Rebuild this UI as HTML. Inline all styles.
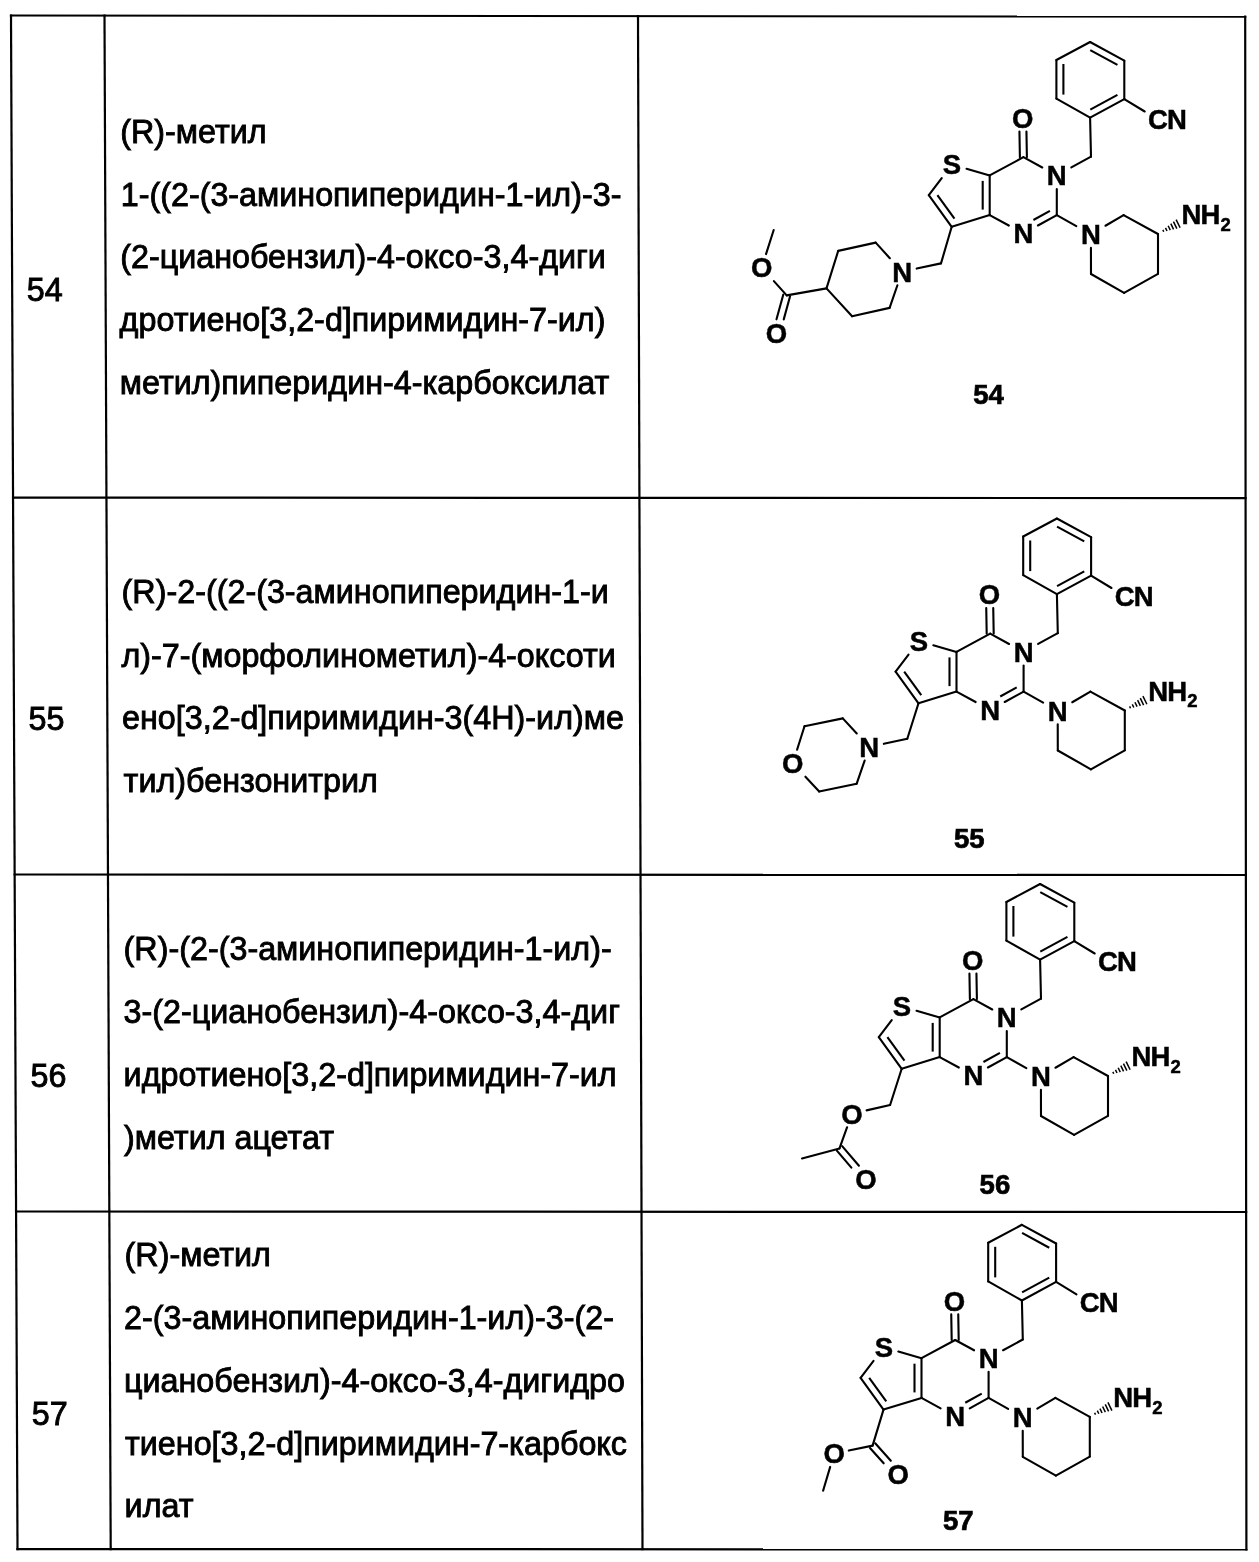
<!DOCTYPE html>
<html><head><meta charset="utf-8"><title>Table</title>
<style>html,body{margin:0;padding:0;background:#fff}body{width:1259px;height:1562px;position:relative;overflow:hidden;font-family:"Liberation Sans",sans-serif}</style>
</head><body>
<svg width="1259" height="1562" viewBox="0 0 1259 1562" style="position:absolute;left:0;top:0;filter:grayscale(1) blur(0.3px)">
<line x1="11.00" y1="15.50" x2="1245.20" y2="16.70" stroke="#000" stroke-width="2.2" stroke-linecap="square"/>
<line x1="17.50" y1="1549.10" x2="1246.40" y2="1549.40" stroke="#000" stroke-width="2.2" stroke-linecap="square"/>
<line x1="11.00" y1="15.50" x2="17.50" y2="1549.10" stroke="#000" stroke-width="2.2" stroke-linecap="square"/>
<line x1="1245.20" y1="16.70" x2="1246.40" y2="1549.40" stroke="#000" stroke-width="2.2" stroke-linecap="square"/>
<line x1="104.50" y1="15.50" x2="110.70" y2="1549.10" stroke="#000" stroke-width="2.2" stroke-linecap="square"/>
<line x1="638.00" y1="16.00" x2="642.50" y2="1549.20" stroke="#000" stroke-width="2.2" stroke-linecap="square"/>
<line x1="13.04" y1="497.60" x2="1245.58" y2="498.10" stroke="#000" stroke-width="2.2" stroke-linecap="square"/>
<line x1="14.64" y1="874.50" x2="1245.87" y2="875.00" stroke="#000" stroke-width="2.2" stroke-linecap="square"/>
<line x1="16.07" y1="1211.50" x2="1246.14" y2="1212.00" stroke="#000" stroke-width="2.2" stroke-linecap="square"/>
<text transform="translate(120.20,142.60) scale(0.9848,1)" font-family="Liberation Sans, sans-serif" font-size="32.8" fill="#000" stroke="#000" stroke-width="0.9">(R)-метил</text>
<text transform="translate(120.70,205.60) scale(0.9848,1)" font-family="Liberation Sans, sans-serif" font-size="32.8" fill="#000" stroke="#000" stroke-width="0.9">1-((2-(3-аминопиперидин-1-ил)-3-</text>
<text transform="translate(120.20,268.40) scale(0.9848,1)" font-family="Liberation Sans, sans-serif" font-size="32.8" fill="#000" stroke="#000" stroke-width="0.9">(2-цианобензил)-4-оксо-3,4-диги</text>
<text transform="translate(119.60,331.20) scale(0.9848,1)" font-family="Liberation Sans, sans-serif" font-size="32.8" fill="#000" stroke="#000" stroke-width="0.9">дротиено[3,2-d]пиримидин-7-ил)</text>
<text transform="translate(119.80,393.60) scale(0.9848,1)" font-family="Liberation Sans, sans-serif" font-size="32.8" fill="#000" stroke="#000" stroke-width="0.9">метил)пиперидин-4-карбоксилат</text>
<text transform="translate(121.60,603.40) scale(0.9848,1)" font-family="Liberation Sans, sans-serif" font-size="32.8" fill="#000" stroke="#000" stroke-width="0.9">(R)-2-((2-(3-аминопиперидин-1-и</text>
<text transform="translate(121.40,666.60) scale(0.9848,1)" font-family="Liberation Sans, sans-serif" font-size="32.8" fill="#000" stroke="#000" stroke-width="0.9">л)-7-(морфолинометил)-4-оксоти</text>
<text transform="translate(122.00,729.10) scale(0.9848,1)" font-family="Liberation Sans, sans-serif" font-size="32.8" fill="#000" stroke="#000" stroke-width="0.9">ено[3,2-d]пиримидин-3(4H)-ил)ме</text>
<text transform="translate(123.60,792.20) scale(0.9848,1)" font-family="Liberation Sans, sans-serif" font-size="32.8" fill="#000" stroke="#000" stroke-width="0.9">тил)бензонитрил</text>
<text transform="translate(123.60,960.00) scale(0.9848,1)" font-family="Liberation Sans, sans-serif" font-size="32.8" fill="#000" stroke="#000" stroke-width="0.9">(R)-(2-(3-аминопиперидин-1-ил)-</text>
<text transform="translate(123.60,1023.00) scale(0.9848,1)" font-family="Liberation Sans, sans-serif" font-size="32.8" fill="#000" stroke="#000" stroke-width="0.9">3-(2-цианобензил)-4-оксо-3,4-диг</text>
<text transform="translate(123.60,1085.90) scale(0.9848,1)" font-family="Liberation Sans, sans-serif" font-size="32.8" fill="#000" stroke="#000" stroke-width="0.9">идротиено[3,2-d]пиримидин-7-ил</text>
<text transform="translate(124.00,1148.60) scale(0.9848,1)" font-family="Liberation Sans, sans-serif" font-size="32.8" fill="#000" stroke="#000" stroke-width="0.9">)метил ацетат</text>
<text transform="translate(124.60,1265.50) scale(0.9848,1)" font-family="Liberation Sans, sans-serif" font-size="32.8" fill="#000" stroke="#000" stroke-width="0.9">(R)-метил</text>
<text transform="translate(124.00,1328.60) scale(0.9848,1)" font-family="Liberation Sans, sans-serif" font-size="32.8" fill="#000" stroke="#000" stroke-width="0.9">2-(3-аминопиперидин-1-ил)-3-(2-</text>
<text transform="translate(124.00,1391.70) scale(0.9848,1)" font-family="Liberation Sans, sans-serif" font-size="32.8" fill="#000" stroke="#000" stroke-width="0.9">цианобензил)-4-оксо-3,4-дигидро</text>
<text transform="translate(125.00,1454.60) scale(0.9848,1)" font-family="Liberation Sans, sans-serif" font-size="32.8" fill="#000" stroke="#000" stroke-width="0.9">тиено[3,2-d]пиримидин-7-карбокс</text>
<text transform="translate(124.60,1517.10) scale(0.9848,1)" font-family="Liberation Sans, sans-serif" font-size="32.8" fill="#000" stroke="#000" stroke-width="0.9">илат</text>
<text transform="translate(26.70,300.60) scale(0.9848,1)" font-family="Liberation Sans, sans-serif" font-size="32.8" fill="#000" stroke="#000" stroke-width="0.9">54</text>
<text transform="translate(28.60,730.20) scale(0.9848,1)" font-family="Liberation Sans, sans-serif" font-size="32.8" fill="#000" stroke="#000" stroke-width="0.9">55</text>
<text transform="translate(30.60,1086.80) scale(0.9848,1)" font-family="Liberation Sans, sans-serif" font-size="32.8" fill="#000" stroke="#000" stroke-width="0.9">56</text>
<text transform="translate(31.80,1424.50) scale(0.9848,1)" font-family="Liberation Sans, sans-serif" font-size="32.8" fill="#000" stroke="#000" stroke-width="0.9">57</text>
<line x1="1090.10" y1="42.00" x2="1124.30" y2="60.70" stroke="#000" stroke-width="2.1" stroke-linecap="round"/>
<line x1="1090.25" y1="50.06" x2="1117.43" y2="64.92" stroke="#000" stroke-width="2.1" stroke-linecap="butt"/>
<line x1="1124.30" y1="60.70" x2="1124.30" y2="99.10" stroke="#000" stroke-width="2.1" stroke-linecap="round"/>
<line x1="1124.30" y1="99.10" x2="1090.10" y2="117.70" stroke="#000" stroke-width="2.1" stroke-linecap="round"/>
<line x1="1117.44" y1="94.86" x2="1090.27" y2="109.64" stroke="#000" stroke-width="2.1" stroke-linecap="butt"/>
<line x1="1090.10" y1="117.70" x2="1056.40" y2="98.60" stroke="#000" stroke-width="2.1" stroke-linecap="round"/>
<line x1="1056.40" y1="98.60" x2="1056.40" y2="60.00" stroke="#000" stroke-width="2.1" stroke-linecap="round"/>
<line x1="1063.40" y1="94.60" x2="1063.40" y2="64.00" stroke="#000" stroke-width="2.1" stroke-linecap="butt"/>
<line x1="1056.40" y1="60.00" x2="1090.10" y2="42.00" stroke="#000" stroke-width="2.1" stroke-linecap="round"/>
<line x1="1124.30" y1="99.10" x2="1144.70" y2="111.50" stroke="#000" stroke-width="2.1" stroke-linecap="round"/>
<line x1="1090.10" y1="117.70" x2="1091.00" y2="156.70" stroke="#000" stroke-width="2.1" stroke-linecap="round"/>
<line x1="1091.00" y1="156.70" x2="1071.34" y2="167.45" stroke="#000" stroke-width="2.1" stroke-linecap="round"/>
<line x1="1042.27" y1="167.48" x2="1023.40" y2="157.20" stroke="#000" stroke-width="2.1" stroke-linecap="round"/>
<line x1="1026.90" y1="157.14" x2="1026.44" y2="131.56" stroke="#000" stroke-width="2.1" stroke-linecap="round"/>
<line x1="1019.90" y1="157.26" x2="1019.44" y2="131.59" stroke="#000" stroke-width="2.1" stroke-linecap="round"/>
<line x1="1023.40" y1="157.20" x2="989.70" y2="175.40" stroke="#000" stroke-width="2.1" stroke-linecap="round"/>
<line x1="989.70" y1="175.40" x2="989.70" y2="215.10" stroke="#000" stroke-width="2.1" stroke-linecap="round"/>
<line x1="982.70" y1="180.90" x2="982.70" y2="209.60" stroke="#000" stroke-width="2.1" stroke-linecap="butt"/>
<line x1="989.70" y1="215.10" x2="1008.82" y2="225.54" stroke="#000" stroke-width="2.1" stroke-linecap="round"/>
<line x1="1037.93" y1="225.50" x2="1056.80" y2="215.10" stroke="#000" stroke-width="2.1" stroke-linecap="round"/>
<line x1="1033.43" y1="219.98" x2="1049.92" y2="210.90" stroke="#000" stroke-width="2.1" stroke-linecap="butt"/>
<line x1="1056.80" y1="215.10" x2="1056.80" y2="189.00" stroke="#000" stroke-width="2.1" stroke-linecap="round"/>
<line x1="989.70" y1="175.40" x2="966.51" y2="168.70" stroke="#000" stroke-width="2.1" stroke-linecap="round"/>
<line x1="941.73" y1="178.04" x2="928.80" y2="195.10" stroke="#000" stroke-width="2.1" stroke-linecap="round"/>
<line x1="928.80" y1="195.10" x2="951.70" y2="226.80" stroke="#000" stroke-width="2.1" stroke-linecap="round"/>
<line x1="937.40" y1="195.05" x2="954.45" y2="218.65" stroke="#000" stroke-width="2.1" stroke-linecap="butt"/>
<line x1="951.70" y1="226.80" x2="989.70" y2="215.10" stroke="#000" stroke-width="2.1" stroke-linecap="round"/>
<line x1="1056.80" y1="215.10" x2="1076.32" y2="226.09" stroke="#000" stroke-width="2.1" stroke-linecap="round"/>
<line x1="1105.45" y1="225.76" x2="1123.60" y2="215.10" stroke="#000" stroke-width="2.1" stroke-linecap="round"/>
<line x1="1123.60" y1="215.10" x2="1158.00" y2="234.00" stroke="#000" stroke-width="2.1" stroke-linecap="round"/>
<line x1="1158.00" y1="234.00" x2="1158.00" y2="273.80" stroke="#000" stroke-width="2.1" stroke-linecap="round"/>
<line x1="1158.00" y1="273.80" x2="1124.10" y2="292.80" stroke="#000" stroke-width="2.1" stroke-linecap="round"/>
<line x1="1124.10" y1="292.80" x2="1091.00" y2="274.00" stroke="#000" stroke-width="2.1" stroke-linecap="round"/>
<line x1="1091.00" y1="274.00" x2="1090.93" y2="247.90" stroke="#000" stroke-width="2.1" stroke-linecap="round"/>
<line x1="1162.83" y1="229.92" x2="1163.73" y2="231.76" stroke="#000" stroke-width="1.5" stroke-linecap="butt"/>
<line x1="1165.49" y1="227.85" x2="1167.00" y2="230.97" stroke="#000" stroke-width="1.5" stroke-linecap="butt"/>
<line x1="1168.15" y1="225.77" x2="1170.28" y2="230.17" stroke="#000" stroke-width="1.5" stroke-linecap="butt"/>
<line x1="1170.81" y1="223.70" x2="1173.55" y2="229.38" stroke="#000" stroke-width="1.5" stroke-linecap="butt"/>
<line x1="1173.47" y1="221.63" x2="1176.83" y2="228.58" stroke="#000" stroke-width="1.5" stroke-linecap="butt"/>
<line x1="1176.13" y1="219.56" x2="1180.10" y2="227.79" stroke="#000" stroke-width="1.5" stroke-linecap="butt"/>
<line x1="951.70" y1="226.80" x2="941.00" y2="263.40" stroke="#000" stroke-width="2.1" stroke-linecap="round"/>
<line x1="941.00" y1="263.40" x2="916.69" y2="268.59" stroke="#000" stroke-width="2.1" stroke-linecap="round"/>
<line x1="889.82" y1="258.17" x2="875.70" y2="242.60" stroke="#000" stroke-width="2.1" stroke-linecap="round"/>
<line x1="875.70" y1="242.60" x2="838.20" y2="250.90" stroke="#000" stroke-width="2.1" stroke-linecap="round"/>
<line x1="838.20" y1="250.90" x2="826.50" y2="288.40" stroke="#000" stroke-width="2.1" stroke-linecap="round"/>
<line x1="826.50" y1="288.40" x2="852.10" y2="316.20" stroke="#000" stroke-width="2.1" stroke-linecap="round"/>
<line x1="852.10" y1="316.20" x2="889.60" y2="307.90" stroke="#000" stroke-width="2.1" stroke-linecap="round"/>
<line x1="889.60" y1="307.90" x2="897.41" y2="285.27" stroke="#000" stroke-width="2.1" stroke-linecap="round"/>
<line x1="826.50" y1="288.40" x2="786.70" y2="295.40" stroke="#000" stroke-width="2.1" stroke-linecap="round"/>
<line x1="786.70" y1="295.40" x2="773.89" y2="281.15" stroke="#000" stroke-width="2.1" stroke-linecap="round"/>
<line x1="766.02" y1="254.06" x2="773.70" y2="230.00" stroke="#000" stroke-width="2.1" stroke-linecap="round"/>
<line x1="783.32" y1="294.47" x2="776.50" y2="319.32" stroke="#000" stroke-width="2.1" stroke-linecap="round"/>
<line x1="790.08" y1="296.33" x2="783.74" y2="319.39" stroke="#000" stroke-width="2.1" stroke-linecap="round"/>
<text x="1148.00" y="129.05" font-family="Liberation Sans, sans-serif" font-weight="bold" font-size="27.5" text-anchor="start" letter-spacing="-0.8" fill="#000" stroke="#000" stroke-width="0.5">CN</text>
<text x="1181.50" y="224.44" font-family="Liberation Sans, sans-serif" font-weight="bold" font-size="27.5" text-anchor="start" letter-spacing="-0.9" fill="#000" stroke="#000" stroke-width="0.5">NH<tspan dx="1.0" dy="6.5" font-size="18.5">2</tspan></text>
<text x="1056.80" y="185.25" font-family="Liberation Sans, sans-serif" font-weight="bold" font-size="27.5" text-anchor="middle" letter-spacing="0" fill="#000" stroke="#000" stroke-width="0.5">N</text>
<text x="1022.70" y="127.84" font-family="Liberation Sans, sans-serif" font-weight="bold" font-size="27.5" text-anchor="middle" letter-spacing="0" fill="#000" stroke="#000" stroke-width="0.5">O</text>
<text x="1023.40" y="243.34" font-family="Liberation Sans, sans-serif" font-weight="bold" font-size="27.5" text-anchor="middle" letter-spacing="0" fill="#000" stroke="#000" stroke-width="0.5">N</text>
<text x="952.00" y="174.34" font-family="Liberation Sans, sans-serif" font-weight="bold" font-size="27.5" text-anchor="middle" letter-spacing="0" fill="#000" stroke="#000" stroke-width="0.5">S</text>
<text x="1090.90" y="244.15" font-family="Liberation Sans, sans-serif" font-weight="bold" font-size="27.5" text-anchor="middle" letter-spacing="0" fill="#000" stroke="#000" stroke-width="0.5">N</text>
<text x="902.10" y="281.54" font-family="Liberation Sans, sans-serif" font-weight="bold" font-size="27.5" text-anchor="middle" letter-spacing="0" fill="#000" stroke="#000" stroke-width="0.5">N</text>
<text x="761.70" y="277.45" font-family="Liberation Sans, sans-serif" font-weight="bold" font-size="27.5" text-anchor="middle" letter-spacing="0" fill="#000" stroke="#000" stroke-width="0.5">O</text>
<text x="776.40" y="342.75" font-family="Liberation Sans, sans-serif" font-weight="bold" font-size="27.5" text-anchor="middle" letter-spacing="0" fill="#000" stroke="#000" stroke-width="0.5">O</text>
<text x="988.50" y="403.50" font-family="Liberation Sans, sans-serif" font-weight="bold" font-size="27.5" text-anchor="middle" fill="#000" stroke="#000" stroke-width="0.7">54</text>
<line x1="1056.90" y1="518.50" x2="1091.10" y2="537.20" stroke="#000" stroke-width="2.1" stroke-linecap="round"/>
<line x1="1057.05" y1="526.56" x2="1084.23" y2="541.42" stroke="#000" stroke-width="2.1" stroke-linecap="butt"/>
<line x1="1091.10" y1="537.20" x2="1091.10" y2="575.60" stroke="#000" stroke-width="2.1" stroke-linecap="round"/>
<line x1="1091.10" y1="575.60" x2="1056.90" y2="594.20" stroke="#000" stroke-width="2.1" stroke-linecap="round"/>
<line x1="1084.24" y1="571.36" x2="1057.07" y2="586.14" stroke="#000" stroke-width="2.1" stroke-linecap="butt"/>
<line x1="1056.90" y1="594.20" x2="1023.20" y2="575.10" stroke="#000" stroke-width="2.1" stroke-linecap="round"/>
<line x1="1023.20" y1="575.10" x2="1023.20" y2="536.50" stroke="#000" stroke-width="2.1" stroke-linecap="round"/>
<line x1="1030.20" y1="571.10" x2="1030.20" y2="540.50" stroke="#000" stroke-width="2.1" stroke-linecap="butt"/>
<line x1="1023.20" y1="536.50" x2="1056.90" y2="518.50" stroke="#000" stroke-width="2.1" stroke-linecap="round"/>
<line x1="1091.10" y1="575.60" x2="1111.50" y2="588.00" stroke="#000" stroke-width="2.1" stroke-linecap="round"/>
<line x1="1056.90" y1="594.20" x2="1057.80" y2="633.20" stroke="#000" stroke-width="2.1" stroke-linecap="round"/>
<line x1="1057.80" y1="633.20" x2="1038.13" y2="643.95" stroke="#000" stroke-width="2.1" stroke-linecap="round"/>
<line x1="1009.07" y1="643.98" x2="990.20" y2="633.70" stroke="#000" stroke-width="2.1" stroke-linecap="round"/>
<line x1="993.70" y1="633.64" x2="993.24" y2="608.06" stroke="#000" stroke-width="2.1" stroke-linecap="round"/>
<line x1="986.70" y1="633.76" x2="986.24" y2="608.09" stroke="#000" stroke-width="2.1" stroke-linecap="round"/>
<line x1="990.20" y1="633.70" x2="956.50" y2="651.90" stroke="#000" stroke-width="2.1" stroke-linecap="round"/>
<line x1="956.50" y1="651.90" x2="956.50" y2="691.60" stroke="#000" stroke-width="2.1" stroke-linecap="round"/>
<line x1="949.50" y1="657.40" x2="949.50" y2="686.10" stroke="#000" stroke-width="2.1" stroke-linecap="butt"/>
<line x1="956.50" y1="691.60" x2="975.62" y2="702.04" stroke="#000" stroke-width="2.1" stroke-linecap="round"/>
<line x1="1004.73" y1="702.00" x2="1023.60" y2="691.60" stroke="#000" stroke-width="2.1" stroke-linecap="round"/>
<line x1="1000.23" y1="696.48" x2="1016.72" y2="687.40" stroke="#000" stroke-width="2.1" stroke-linecap="butt"/>
<line x1="1023.60" y1="691.60" x2="1023.60" y2="665.50" stroke="#000" stroke-width="2.1" stroke-linecap="round"/>
<line x1="956.50" y1="651.90" x2="933.31" y2="645.20" stroke="#000" stroke-width="2.1" stroke-linecap="round"/>
<line x1="908.53" y1="654.54" x2="895.60" y2="671.60" stroke="#000" stroke-width="2.1" stroke-linecap="round"/>
<line x1="895.60" y1="671.60" x2="918.50" y2="703.30" stroke="#000" stroke-width="2.1" stroke-linecap="round"/>
<line x1="904.20" y1="671.55" x2="921.25" y2="695.15" stroke="#000" stroke-width="2.1" stroke-linecap="butt"/>
<line x1="918.50" y1="703.30" x2="956.50" y2="691.60" stroke="#000" stroke-width="2.1" stroke-linecap="round"/>
<line x1="1023.60" y1="691.60" x2="1043.12" y2="702.59" stroke="#000" stroke-width="2.1" stroke-linecap="round"/>
<line x1="1072.25" y1="702.26" x2="1090.40" y2="691.60" stroke="#000" stroke-width="2.1" stroke-linecap="round"/>
<line x1="1090.40" y1="691.60" x2="1124.80" y2="710.50" stroke="#000" stroke-width="2.1" stroke-linecap="round"/>
<line x1="1124.80" y1="710.50" x2="1124.80" y2="750.30" stroke="#000" stroke-width="2.1" stroke-linecap="round"/>
<line x1="1124.80" y1="750.30" x2="1090.90" y2="769.30" stroke="#000" stroke-width="2.1" stroke-linecap="round"/>
<line x1="1090.90" y1="769.30" x2="1057.80" y2="750.50" stroke="#000" stroke-width="2.1" stroke-linecap="round"/>
<line x1="1057.80" y1="750.50" x2="1057.73" y2="724.40" stroke="#000" stroke-width="2.1" stroke-linecap="round"/>
<line x1="1129.63" y1="706.42" x2="1130.53" y2="708.26" stroke="#000" stroke-width="1.5" stroke-linecap="butt"/>
<line x1="1132.29" y1="704.35" x2="1133.80" y2="707.47" stroke="#000" stroke-width="1.5" stroke-linecap="butt"/>
<line x1="1134.95" y1="702.27" x2="1137.08" y2="706.67" stroke="#000" stroke-width="1.5" stroke-linecap="butt"/>
<line x1="1137.61" y1="700.20" x2="1140.35" y2="705.88" stroke="#000" stroke-width="1.5" stroke-linecap="butt"/>
<line x1="1140.27" y1="698.13" x2="1143.63" y2="705.08" stroke="#000" stroke-width="1.5" stroke-linecap="butt"/>
<line x1="1142.93" y1="696.06" x2="1146.90" y2="704.29" stroke="#000" stroke-width="1.5" stroke-linecap="butt"/>
<line x1="918.50" y1="703.30" x2="907.30" y2="738.70" stroke="#000" stroke-width="2.1" stroke-linecap="round"/>
<line x1="907.30" y1="738.70" x2="883.83" y2="743.83" stroke="#000" stroke-width="2.1" stroke-linecap="round"/>
<line x1="856.78" y1="733.49" x2="842.80" y2="718.40" stroke="#000" stroke-width="2.1" stroke-linecap="round"/>
<line x1="842.80" y1="718.40" x2="804.50" y2="726.20" stroke="#000" stroke-width="2.1" stroke-linecap="round"/>
<line x1="804.50" y1="726.20" x2="797.07" y2="749.70" stroke="#000" stroke-width="2.1" stroke-linecap="round"/>
<line x1="805.41" y1="776.71" x2="819.20" y2="791.50" stroke="#000" stroke-width="2.1" stroke-linecap="round"/>
<line x1="819.20" y1="791.50" x2="856.70" y2="783.70" stroke="#000" stroke-width="2.1" stroke-linecap="round"/>
<line x1="856.70" y1="783.70" x2="864.64" y2="760.58" stroke="#000" stroke-width="2.1" stroke-linecap="round"/>
<text x="1114.80" y="605.55" font-family="Liberation Sans, sans-serif" font-weight="bold" font-size="27.5" text-anchor="start" letter-spacing="-0.8" fill="#000" stroke="#000" stroke-width="0.5">CN</text>
<text x="1148.30" y="700.95" font-family="Liberation Sans, sans-serif" font-weight="bold" font-size="27.5" text-anchor="start" letter-spacing="-0.9" fill="#000" stroke="#000" stroke-width="0.5">NH<tspan dx="1.0" dy="6.5" font-size="18.5">2</tspan></text>
<text x="1023.60" y="661.75" font-family="Liberation Sans, sans-serif" font-weight="bold" font-size="27.5" text-anchor="middle" letter-spacing="0" fill="#000" stroke="#000" stroke-width="0.5">N</text>
<text x="989.50" y="604.35" font-family="Liberation Sans, sans-serif" font-weight="bold" font-size="27.5" text-anchor="middle" letter-spacing="0" fill="#000" stroke="#000" stroke-width="0.5">O</text>
<text x="990.20" y="719.85" font-family="Liberation Sans, sans-serif" font-weight="bold" font-size="27.5" text-anchor="middle" letter-spacing="0" fill="#000" stroke="#000" stroke-width="0.5">N</text>
<text x="918.80" y="650.85" font-family="Liberation Sans, sans-serif" font-weight="bold" font-size="27.5" text-anchor="middle" letter-spacing="0" fill="#000" stroke="#000" stroke-width="0.5">S</text>
<text x="1057.70" y="720.64" font-family="Liberation Sans, sans-serif" font-weight="bold" font-size="27.5" text-anchor="middle" letter-spacing="0" fill="#000" stroke="#000" stroke-width="0.5">N</text>
<text x="869.30" y="756.85" font-family="Liberation Sans, sans-serif" font-weight="bold" font-size="27.5" text-anchor="middle" letter-spacing="0" fill="#000" stroke="#000" stroke-width="0.5">N</text>
<text x="792.80" y="773.05" font-family="Liberation Sans, sans-serif" font-weight="bold" font-size="27.5" text-anchor="middle" letter-spacing="0" fill="#000" stroke="#000" stroke-width="0.5">O</text>
<text x="969.30" y="847.50" font-family="Liberation Sans, sans-serif" font-weight="bold" font-size="27.5" text-anchor="middle" fill="#000" stroke="#000" stroke-width="0.7">55</text>
<line x1="1040.10" y1="884.00" x2="1074.30" y2="902.70" stroke="#000" stroke-width="2.1" stroke-linecap="round"/>
<line x1="1040.25" y1="892.06" x2="1067.43" y2="906.92" stroke="#000" stroke-width="2.1" stroke-linecap="butt"/>
<line x1="1074.30" y1="902.70" x2="1074.30" y2="941.10" stroke="#000" stroke-width="2.1" stroke-linecap="round"/>
<line x1="1074.30" y1="941.10" x2="1040.10" y2="959.70" stroke="#000" stroke-width="2.1" stroke-linecap="round"/>
<line x1="1067.44" y1="936.86" x2="1040.27" y2="951.64" stroke="#000" stroke-width="2.1" stroke-linecap="butt"/>
<line x1="1040.10" y1="959.70" x2="1006.40" y2="940.60" stroke="#000" stroke-width="2.1" stroke-linecap="round"/>
<line x1="1006.40" y1="940.60" x2="1006.40" y2="902.00" stroke="#000" stroke-width="2.1" stroke-linecap="round"/>
<line x1="1013.40" y1="936.60" x2="1013.40" y2="906.00" stroke="#000" stroke-width="2.1" stroke-linecap="butt"/>
<line x1="1006.40" y1="902.00" x2="1040.10" y2="884.00" stroke="#000" stroke-width="2.1" stroke-linecap="round"/>
<line x1="1074.30" y1="941.10" x2="1094.70" y2="953.50" stroke="#000" stroke-width="2.1" stroke-linecap="round"/>
<line x1="1040.10" y1="959.70" x2="1041.00" y2="998.70" stroke="#000" stroke-width="2.1" stroke-linecap="round"/>
<line x1="1041.00" y1="998.70" x2="1021.33" y2="1009.45" stroke="#000" stroke-width="2.1" stroke-linecap="round"/>
<line x1="992.27" y1="1009.48" x2="973.40" y2="999.20" stroke="#000" stroke-width="2.1" stroke-linecap="round"/>
<line x1="976.90" y1="999.14" x2="976.44" y2="973.56" stroke="#000" stroke-width="2.1" stroke-linecap="round"/>
<line x1="969.90" y1="999.26" x2="969.44" y2="973.59" stroke="#000" stroke-width="2.1" stroke-linecap="round"/>
<line x1="973.40" y1="999.20" x2="939.70" y2="1017.40" stroke="#000" stroke-width="2.1" stroke-linecap="round"/>
<line x1="939.70" y1="1017.40" x2="939.70" y2="1057.10" stroke="#000" stroke-width="2.1" stroke-linecap="round"/>
<line x1="932.70" y1="1022.90" x2="932.70" y2="1051.60" stroke="#000" stroke-width="2.1" stroke-linecap="butt"/>
<line x1="939.70" y1="1057.10" x2="958.82" y2="1067.54" stroke="#000" stroke-width="2.1" stroke-linecap="round"/>
<line x1="987.93" y1="1067.50" x2="1006.80" y2="1057.10" stroke="#000" stroke-width="2.1" stroke-linecap="round"/>
<line x1="983.43" y1="1061.98" x2="999.92" y2="1052.90" stroke="#000" stroke-width="2.1" stroke-linecap="butt"/>
<line x1="1006.80" y1="1057.10" x2="1006.80" y2="1031.00" stroke="#000" stroke-width="2.1" stroke-linecap="round"/>
<line x1="939.70" y1="1017.40" x2="916.51" y2="1010.70" stroke="#000" stroke-width="2.1" stroke-linecap="round"/>
<line x1="891.73" y1="1020.04" x2="878.80" y2="1037.10" stroke="#000" stroke-width="2.1" stroke-linecap="round"/>
<line x1="878.80" y1="1037.10" x2="901.70" y2="1068.80" stroke="#000" stroke-width="2.1" stroke-linecap="round"/>
<line x1="887.40" y1="1037.05" x2="904.45" y2="1060.65" stroke="#000" stroke-width="2.1" stroke-linecap="butt"/>
<line x1="901.70" y1="1068.80" x2="939.70" y2="1057.10" stroke="#000" stroke-width="2.1" stroke-linecap="round"/>
<line x1="1006.80" y1="1057.10" x2="1026.32" y2="1068.09" stroke="#000" stroke-width="2.1" stroke-linecap="round"/>
<line x1="1055.45" y1="1067.76" x2="1073.60" y2="1057.10" stroke="#000" stroke-width="2.1" stroke-linecap="round"/>
<line x1="1073.60" y1="1057.10" x2="1108.00" y2="1076.00" stroke="#000" stroke-width="2.1" stroke-linecap="round"/>
<line x1="1108.00" y1="1076.00" x2="1108.00" y2="1115.80" stroke="#000" stroke-width="2.1" stroke-linecap="round"/>
<line x1="1108.00" y1="1115.80" x2="1074.10" y2="1134.80" stroke="#000" stroke-width="2.1" stroke-linecap="round"/>
<line x1="1074.10" y1="1134.80" x2="1041.00" y2="1116.00" stroke="#000" stroke-width="2.1" stroke-linecap="round"/>
<line x1="1041.00" y1="1116.00" x2="1040.93" y2="1089.90" stroke="#000" stroke-width="2.1" stroke-linecap="round"/>
<line x1="1112.83" y1="1071.92" x2="1113.73" y2="1073.76" stroke="#000" stroke-width="1.5" stroke-linecap="butt"/>
<line x1="1115.49" y1="1069.85" x2="1117.00" y2="1072.97" stroke="#000" stroke-width="1.5" stroke-linecap="butt"/>
<line x1="1118.15" y1="1067.77" x2="1120.28" y2="1072.17" stroke="#000" stroke-width="1.5" stroke-linecap="butt"/>
<line x1="1120.81" y1="1065.70" x2="1123.55" y2="1071.38" stroke="#000" stroke-width="1.5" stroke-linecap="butt"/>
<line x1="1123.47" y1="1063.63" x2="1126.83" y2="1070.58" stroke="#000" stroke-width="1.5" stroke-linecap="butt"/>
<line x1="1126.13" y1="1061.56" x2="1130.10" y2="1069.79" stroke="#000" stroke-width="1.5" stroke-linecap="butt"/>
<line x1="901.70" y1="1068.80" x2="890.10" y2="1105.00" stroke="#000" stroke-width="2.1" stroke-linecap="round"/>
<line x1="890.10" y1="1105.00" x2="866.57" y2="1110.37" stroke="#000" stroke-width="2.1" stroke-linecap="round"/>
<line x1="847.12" y1="1127.23" x2="839.50" y2="1148.40" stroke="#000" stroke-width="2.1" stroke-linecap="round"/>
<line x1="839.50" y1="1148.40" x2="802.00" y2="1158.40" stroke="#000" stroke-width="2.1" stroke-linecap="round"/>
<line x1="836.84" y1="1150.67" x2="851.36" y2="1167.67" stroke="#000" stroke-width="2.1" stroke-linecap="round"/>
<line x1="842.16" y1="1146.13" x2="858.93" y2="1165.75" stroke="#000" stroke-width="2.1" stroke-linecap="round"/>
<text x="1098.00" y="971.05" font-family="Liberation Sans, sans-serif" font-weight="bold" font-size="27.5" text-anchor="start" letter-spacing="-0.8" fill="#000" stroke="#000" stroke-width="0.5">CN</text>
<text x="1131.50" y="1066.44" font-family="Liberation Sans, sans-serif" font-weight="bold" font-size="27.5" text-anchor="start" letter-spacing="-0.9" fill="#000" stroke="#000" stroke-width="0.5">NH<tspan dx="1.0" dy="6.5" font-size="18.5">2</tspan></text>
<text x="1006.80" y="1027.24" font-family="Liberation Sans, sans-serif" font-weight="bold" font-size="27.5" text-anchor="middle" letter-spacing="0" fill="#000" stroke="#000" stroke-width="0.5">N</text>
<text x="972.70" y="969.85" font-family="Liberation Sans, sans-serif" font-weight="bold" font-size="27.5" text-anchor="middle" letter-spacing="0" fill="#000" stroke="#000" stroke-width="0.5">O</text>
<text x="973.40" y="1085.35" font-family="Liberation Sans, sans-serif" font-weight="bold" font-size="27.5" text-anchor="middle" letter-spacing="0" fill="#000" stroke="#000" stroke-width="0.5">N</text>
<text x="902.00" y="1016.35" font-family="Liberation Sans, sans-serif" font-weight="bold" font-size="27.5" text-anchor="middle" letter-spacing="0" fill="#000" stroke="#000" stroke-width="0.5">S</text>
<text x="1040.90" y="1086.14" font-family="Liberation Sans, sans-serif" font-weight="bold" font-size="27.5" text-anchor="middle" letter-spacing="0" fill="#000" stroke="#000" stroke-width="0.5">N</text>
<text x="852.00" y="1123.55" font-family="Liberation Sans, sans-serif" font-weight="bold" font-size="27.5" text-anchor="middle" letter-spacing="0" fill="#000" stroke="#000" stroke-width="0.5">O</text>
<text x="865.90" y="1189.14" font-family="Liberation Sans, sans-serif" font-weight="bold" font-size="27.5" text-anchor="middle" letter-spacing="0" fill="#000" stroke="#000" stroke-width="0.5">O</text>
<text x="994.90" y="1193.80" font-family="Liberation Sans, sans-serif" font-weight="bold" font-size="27.5" text-anchor="middle" fill="#000" stroke="#000" stroke-width="0.7">56</text>
<line x1="1021.90" y1="1224.80" x2="1056.10" y2="1243.50" stroke="#000" stroke-width="2.1" stroke-linecap="round"/>
<line x1="1022.05" y1="1232.86" x2="1049.23" y2="1247.72" stroke="#000" stroke-width="2.1" stroke-linecap="butt"/>
<line x1="1056.10" y1="1243.50" x2="1056.10" y2="1281.90" stroke="#000" stroke-width="2.1" stroke-linecap="round"/>
<line x1="1056.10" y1="1281.90" x2="1021.90" y2="1300.50" stroke="#000" stroke-width="2.1" stroke-linecap="round"/>
<line x1="1049.24" y1="1277.66" x2="1022.07" y2="1292.44" stroke="#000" stroke-width="2.1" stroke-linecap="butt"/>
<line x1="1021.90" y1="1300.50" x2="988.20" y2="1281.40" stroke="#000" stroke-width="2.1" stroke-linecap="round"/>
<line x1="988.20" y1="1281.40" x2="988.20" y2="1242.80" stroke="#000" stroke-width="2.1" stroke-linecap="round"/>
<line x1="995.20" y1="1277.40" x2="995.20" y2="1246.80" stroke="#000" stroke-width="2.1" stroke-linecap="butt"/>
<line x1="988.20" y1="1242.80" x2="1021.90" y2="1224.80" stroke="#000" stroke-width="2.1" stroke-linecap="round"/>
<line x1="1056.10" y1="1281.90" x2="1076.50" y2="1294.30" stroke="#000" stroke-width="2.1" stroke-linecap="round"/>
<line x1="1021.90" y1="1300.50" x2="1022.80" y2="1339.50" stroke="#000" stroke-width="2.1" stroke-linecap="round"/>
<line x1="1022.80" y1="1339.50" x2="1003.13" y2="1350.25" stroke="#000" stroke-width="2.1" stroke-linecap="round"/>
<line x1="974.07" y1="1350.28" x2="955.20" y2="1340.00" stroke="#000" stroke-width="2.1" stroke-linecap="round"/>
<line x1="958.70" y1="1339.94" x2="958.24" y2="1314.36" stroke="#000" stroke-width="2.1" stroke-linecap="round"/>
<line x1="951.70" y1="1340.06" x2="951.24" y2="1314.39" stroke="#000" stroke-width="2.1" stroke-linecap="round"/>
<line x1="955.20" y1="1340.00" x2="921.50" y2="1358.20" stroke="#000" stroke-width="2.1" stroke-linecap="round"/>
<line x1="921.50" y1="1358.20" x2="921.50" y2="1397.90" stroke="#000" stroke-width="2.1" stroke-linecap="round"/>
<line x1="914.50" y1="1363.70" x2="914.50" y2="1392.40" stroke="#000" stroke-width="2.1" stroke-linecap="butt"/>
<line x1="921.50" y1="1397.90" x2="940.62" y2="1408.34" stroke="#000" stroke-width="2.1" stroke-linecap="round"/>
<line x1="969.73" y1="1408.30" x2="988.60" y2="1397.90" stroke="#000" stroke-width="2.1" stroke-linecap="round"/>
<line x1="965.23" y1="1402.78" x2="981.72" y2="1393.70" stroke="#000" stroke-width="2.1" stroke-linecap="butt"/>
<line x1="988.60" y1="1397.90" x2="988.60" y2="1371.80" stroke="#000" stroke-width="2.1" stroke-linecap="round"/>
<line x1="921.50" y1="1358.20" x2="898.31" y2="1351.50" stroke="#000" stroke-width="2.1" stroke-linecap="round"/>
<line x1="873.53" y1="1360.84" x2="860.60" y2="1377.90" stroke="#000" stroke-width="2.1" stroke-linecap="round"/>
<line x1="860.60" y1="1377.90" x2="883.50" y2="1409.60" stroke="#000" stroke-width="2.1" stroke-linecap="round"/>
<line x1="869.20" y1="1377.85" x2="886.25" y2="1401.45" stroke="#000" stroke-width="2.1" stroke-linecap="butt"/>
<line x1="883.50" y1="1409.60" x2="921.50" y2="1397.90" stroke="#000" stroke-width="2.1" stroke-linecap="round"/>
<line x1="988.60" y1="1397.90" x2="1008.12" y2="1408.89" stroke="#000" stroke-width="2.1" stroke-linecap="round"/>
<line x1="1037.25" y1="1408.56" x2="1055.40" y2="1397.90" stroke="#000" stroke-width="2.1" stroke-linecap="round"/>
<line x1="1055.40" y1="1397.90" x2="1089.80" y2="1416.80" stroke="#000" stroke-width="2.1" stroke-linecap="round"/>
<line x1="1089.80" y1="1416.80" x2="1089.80" y2="1456.60" stroke="#000" stroke-width="2.1" stroke-linecap="round"/>
<line x1="1089.80" y1="1456.60" x2="1055.90" y2="1475.60" stroke="#000" stroke-width="2.1" stroke-linecap="round"/>
<line x1="1055.90" y1="1475.60" x2="1022.80" y2="1456.80" stroke="#000" stroke-width="2.1" stroke-linecap="round"/>
<line x1="1022.80" y1="1456.80" x2="1022.73" y2="1430.70" stroke="#000" stroke-width="2.1" stroke-linecap="round"/>
<line x1="1094.63" y1="1412.72" x2="1095.53" y2="1414.56" stroke="#000" stroke-width="1.5" stroke-linecap="butt"/>
<line x1="1097.29" y1="1410.65" x2="1098.80" y2="1413.77" stroke="#000" stroke-width="1.5" stroke-linecap="butt"/>
<line x1="1099.95" y1="1408.57" x2="1102.08" y2="1412.97" stroke="#000" stroke-width="1.5" stroke-linecap="butt"/>
<line x1="1102.61" y1="1406.50" x2="1105.35" y2="1412.18" stroke="#000" stroke-width="1.5" stroke-linecap="butt"/>
<line x1="1105.27" y1="1404.43" x2="1108.63" y2="1411.38" stroke="#000" stroke-width="1.5" stroke-linecap="butt"/>
<line x1="1107.93" y1="1402.36" x2="1111.90" y2="1410.59" stroke="#000" stroke-width="1.5" stroke-linecap="butt"/>
<line x1="883.50" y1="1409.60" x2="872.60" y2="1445.60" stroke="#000" stroke-width="2.1" stroke-linecap="round"/>
<line x1="872.60" y1="1445.60" x2="848.79" y2="1450.44" stroke="#000" stroke-width="2.1" stroke-linecap="round"/>
<line x1="830.18" y1="1466.92" x2="823.10" y2="1490.70" stroke="#000" stroke-width="2.1" stroke-linecap="round"/>
<line x1="869.99" y1="1447.93" x2="883.68" y2="1463.28" stroke="#000" stroke-width="2.1" stroke-linecap="round"/>
<line x1="875.21" y1="1443.27" x2="890.83" y2="1460.78" stroke="#000" stroke-width="2.1" stroke-linecap="round"/>
<text x="1079.80" y="1311.85" font-family="Liberation Sans, sans-serif" font-weight="bold" font-size="27.5" text-anchor="start" letter-spacing="-0.8" fill="#000" stroke="#000" stroke-width="0.5">CN</text>
<text x="1113.30" y="1407.24" font-family="Liberation Sans, sans-serif" font-weight="bold" font-size="27.5" text-anchor="start" letter-spacing="-0.9" fill="#000" stroke="#000" stroke-width="0.5">NH<tspan dx="1.0" dy="6.5" font-size="18.5">2</tspan></text>
<text x="988.60" y="1368.05" font-family="Liberation Sans, sans-serif" font-weight="bold" font-size="27.5" text-anchor="middle" letter-spacing="0" fill="#000" stroke="#000" stroke-width="0.5">N</text>
<text x="954.50" y="1310.64" font-family="Liberation Sans, sans-serif" font-weight="bold" font-size="27.5" text-anchor="middle" letter-spacing="0" fill="#000" stroke="#000" stroke-width="0.5">O</text>
<text x="955.20" y="1426.14" font-family="Liberation Sans, sans-serif" font-weight="bold" font-size="27.5" text-anchor="middle" letter-spacing="0" fill="#000" stroke="#000" stroke-width="0.5">N</text>
<text x="883.80" y="1357.14" font-family="Liberation Sans, sans-serif" font-weight="bold" font-size="27.5" text-anchor="middle" letter-spacing="0" fill="#000" stroke="#000" stroke-width="0.5">S</text>
<text x="1022.70" y="1426.94" font-family="Liberation Sans, sans-serif" font-weight="bold" font-size="27.5" text-anchor="middle" letter-spacing="0" fill="#000" stroke="#000" stroke-width="0.5">N</text>
<text x="834.20" y="1463.25" font-family="Liberation Sans, sans-serif" font-weight="bold" font-size="27.5" text-anchor="middle" letter-spacing="0" fill="#000" stroke="#000" stroke-width="0.5">O</text>
<text x="898.20" y="1484.14" font-family="Liberation Sans, sans-serif" font-weight="bold" font-size="27.5" text-anchor="middle" letter-spacing="0" fill="#000" stroke="#000" stroke-width="0.5">O</text>
<text x="958.20" y="1529.70" font-family="Liberation Sans, sans-serif" font-weight="bold" font-size="27.5" text-anchor="middle" fill="#000" stroke="#000" stroke-width="0.7">57</text>
</svg>
</body></html>
